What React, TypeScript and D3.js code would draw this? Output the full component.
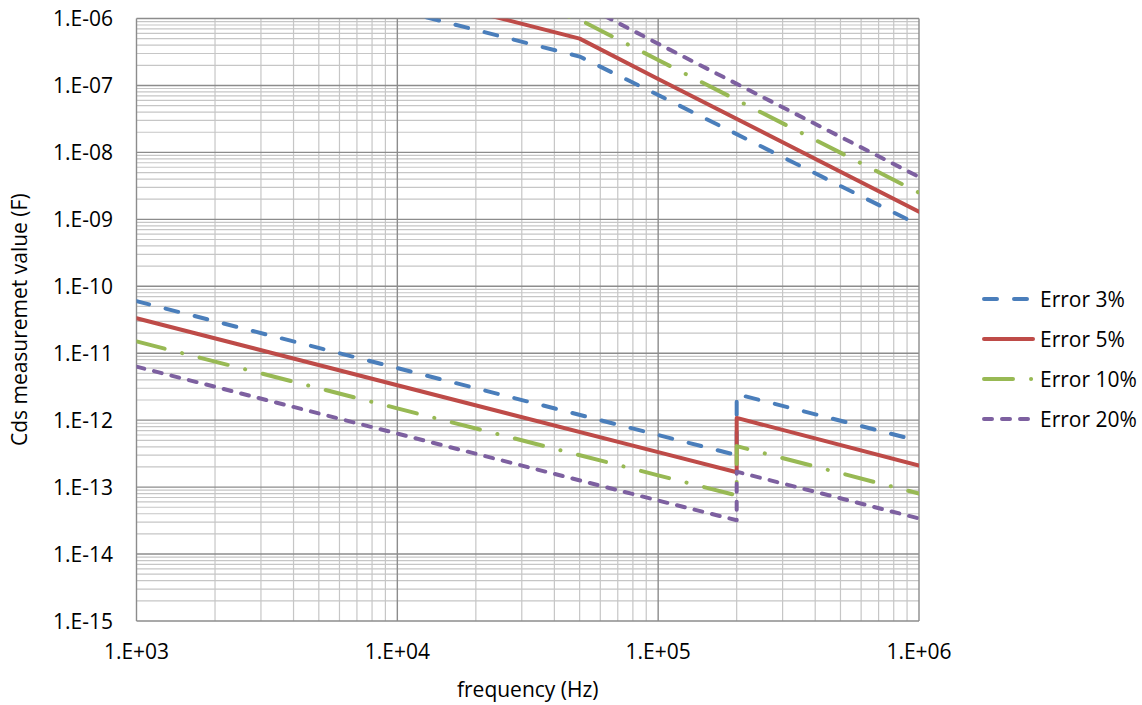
import React from "react";
import * as d3 from "d3";

const W = 1142;
const H = 705;

// Lower branch frequencies (Hz) – the jump at 2e5 appears twice
const freqLow = [1e3, 1e4, 1e5, 2e5, 2e5, 1e6];
// Upper branch frequencies (Hz)
const freqHigh = [1e4, 5e4, 1e5, 1e6];

const err3Low = [6.0e-11, 6.0e-12, 6.0e-13, 3.0e-13, 2.45e-12, 4.9e-13];
const err5Low = [3.33e-11, 3.33e-12, 3.33e-13, 1.67e-13, 1.08e-12, 2.1e-13];
const err10Low = [1.5e-11, 1.5e-12, 1.5e-13, 7.5e-14, 4.1e-13, 8.0e-14];
const err20Low = [6.3e-12, 6.3e-13, 6.3e-14, 3.2e-14, 1.7e-13, 3.4e-14];

const err3High = [1.35e-6, 2.7e-7, 7.2e-8, 8.2e-10];
const err5High = [2.5e-6, 5.0e-7, 1.25e-7, 1.3e-9];
const err10High = [4.8e-6, 9.6e-7, 2.4e-7, 2.5e-9];
const err20High = [8.5e-6, 1.7e-6, 4.2e-7, 4.3e-9];

const seriesNames = ["Error 3%", "Error 5%", "Error 10%", "Error 20%"];
const seriesColors = ["#4A7EBB", "#BE4B48", "#98B954", "#7D60A0"];
const seriesDash = ["13,17", "", "29,18,0.1,18", "8,10"];
const lowValues = [err3Low, err5Low, err10Low, err20Low];
const highValues = [err3High, err5High, err10High, err20High];

const xTicks = [1e3, 1e4, 1e5, 1e6];
const xTickLabels = ["1.E+03", "1.E+04", "1.E+05", "1.E+06"];
const yTicks = [1e-15, 1e-14, 1e-13, 1e-12, 1e-11, 1e-10, 1e-9, 1e-8, 1e-7, 1e-6];
const yTickLabels = [
  "1.E-15", "1.E-14", "1.E-13", "1.E-12", "1.E-11",
  "1.E-10", "1.E-09", "1.E-08", "1.E-07", "1.E-06",
];

const FONT = "'Open Sans', sans-serif";

export default function App() {
  const left = 136.5, right = 919, top = 18.5, bottom = 621;
  const x = d3.scaleLog().domain([1e3, 1e6]).range([left, right]);
  const y = d3.scaleLog().domain([1e-15, 1e-6]).range([bottom, top]);

  const minorX: number[] = [];
  for (let d = 1e3; d < 1e6; d *= 10) for (let k = 2; k <= 9; k++) minorX.push(d * k);
  const minorY: number[] = [];
  for (let d = 1e-15; d < 1e-6 * 0.99; d *= 10) for (let k = 2; k <= 9; k++) minorY.push(d * k);

  const line = d3
    .line<[number, number]>()
    .x((d) => x(d[0]))
    .y((d) => y(d[1]));

  const legendY = [299, 339, 379, 419];

  return (
    <svg
      width={W}
      height={H}
      style={{ position: "absolute", left: 0, top: 0, background: "#fff" }}
      fontFamily={FONT}
    >
      <defs>
        <clipPath id="plotClip">
          <rect x={left} y={top} width={right - left} height={bottom - top} />
        </clipPath>
      </defs>
      <rect x={0} y={0} width={W} height={H} fill="#fff" />
      {/* minor grid */}
      {minorX.map((v, i) => (
        <line key={"mx" + i} x1={x(v)} x2={x(v)} y1={top} y2={bottom} stroke="#c6c6c6" strokeWidth={1.2} />
      ))}
      {minorY.map((v, i) => (
        <line key={"my" + i} x1={left} x2={right} y1={y(v)} y2={y(v)} stroke="#c6c6c6" strokeWidth={1.2} />
      ))}
      {/* major grid */}
      {xTicks.map((v, i) => (
        <line key={"Mx" + i} x1={x(v)} x2={x(v)} y1={top} y2={bottom} stroke="#8c8c8c" strokeWidth={1.4} />
      ))}
      {yTicks.map((v, i) => (
        <line key={"My" + i} x1={left} x2={right} y1={y(v)} y2={y(v)} stroke="#8c8c8c" strokeWidth={1.4} />
      ))}
      {/* series */}
      <g clipPath="url(#plotClip)">
        {seriesNames.map((name, si) => (
          <g key={name}>
            <path
              d={line(freqHigh.map((f, i) => [f, highValues[si][i]] as [number, number])) || ""}
              fill="none"
              stroke={seriesColors[si]}
              strokeWidth={4}
              strokeDasharray={seriesDash[si] || undefined}
              strokeLinecap="round"
              strokeLinejoin="round"
            />
            <path
              d={line(freqLow.map((f, i) => [f, lowValues[si][i]] as [number, number])) || ""}
              fill="none"
              stroke={seriesColors[si]}
              strokeWidth={4}
              strokeDasharray={seriesDash[si] || undefined}
              strokeLinecap="round"
              strokeLinejoin="round"
            />
          </g>
        ))}
      </g>
      {/* y tick labels */}
      {yTicks.map((v, i) => (
        <text key={"yt" + i} x={113} y={y(v) + 7.5} textAnchor="end" fontSize={21} fill="#000">
          {yTickLabels[i]}
        </text>
      ))}
      {/* x tick labels */}
      {xTicks.map((v, i) => (
        <text key={"xt" + i} x={x(v)} y={659} textAnchor="middle" fontSize={21} fill="#000">
          {xTickLabels[i]}
        </text>
      ))}
      <text x={(left + right) / 2} y={697} textAnchor="middle" fontSize={21} fill="#000">
        frequency (Hz)
      </text>
      <text
        transform={`translate(27, ${(top + bottom) / 2}) rotate(-90)`}
        textAnchor="middle"
        fontSize={21}
        fill="#000"
      >
        Cds measuremet value (F)
      </text>
      {/* legend */}
      {seriesNames.map((name, si) => (
        <g key={"lg" + si}>
          <line
            x1={984}
            x2={1033}
            y1={legendY[si]}
            y2={legendY[si]}
            stroke={seriesColors[si]}
            strokeWidth={4}
            strokeDasharray={seriesDash[si] || undefined}
            strokeLinecap="round"
          />
          <text x={1040} y={legendY[si] + 7.5} fontSize={21} fill="#000">
            {name}
          </text>
        </g>
      ))}
    </svg>
  );
}
